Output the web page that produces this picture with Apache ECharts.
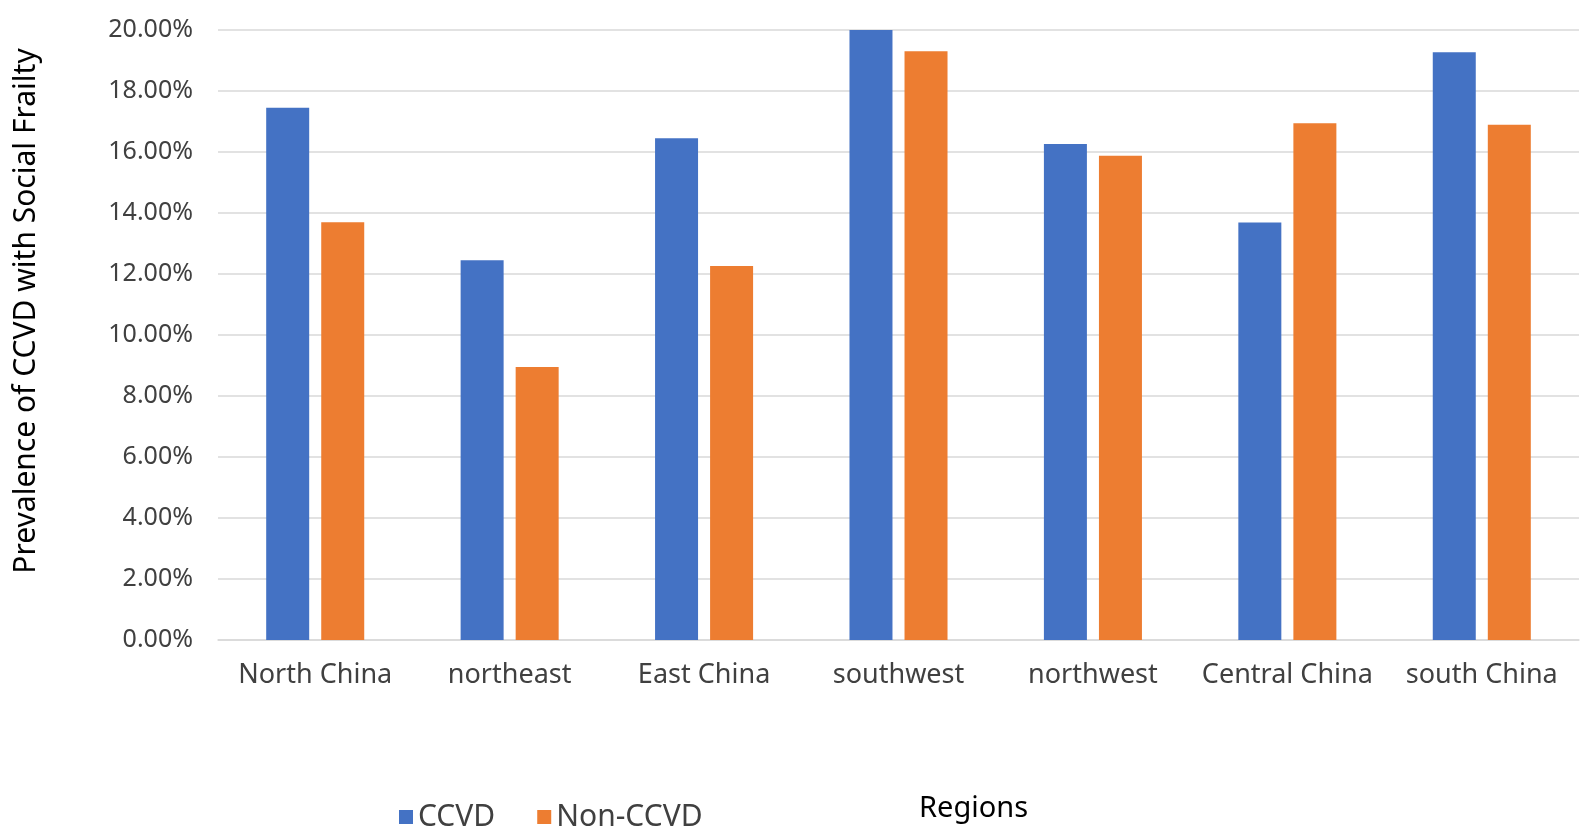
<!DOCTYPE html>
<html>
<head>
<meta charset="utf-8">
<title>Prevalence of CCVD with Social Frailty</title>
<script src="https://cdn.jsdelivr.net/npm/echarts@6/dist/echarts.min.js"></script>
<style>
  html, body { margin: 0; padding: 0; background: #fff; }
  #main { width: 1595px; height: 840px; }
</style>
</head>
<body>
<div id="main"></div>
<script>
// 各地区数据（百分比）
var regions = ['North China', 'northeast', 'East China', 'southwest', 'northwest', 'Central China', 'south China'];
var ccvd = [17.45, 12.45, 16.45, 20.0, 16.26, 13.69, 19.27];
var nonCcvd = [13.7, 8.95, 12.26, 19.3, 15.88, 16.94, 16.89];
var yTicks = { min: 0, max: 20, interval: 2 };

var font = '"Noto Sans", "Open Sans", sans-serif';
var chart = echarts.init(document.getElementById('main'));

var option = {
  animation: false,
  color: ['#4472C4', '#ED7D31'],
  title: {
    text: 'Regions',
    left: 914,
    top: 789,
    textStyle: { fontFamily: font, fontSize: 29, fontWeight: 'normal', color: '#000' }
  },
  legend: {
    data: ['CCVD', 'Non-CCVD'],
    left: 394,
    top: 797,
    icon: 'rect',
    itemWidth: 14,
    itemHeight: 14,
    itemGap: 42,
    textStyle: { fontFamily: font, fontSize: 30, color: '#404040' }
  },
  grid: { left: 218, right: 16, top: 30, bottom: 200 },
  xAxis: {
    type: 'category',
    data: regions,
    axisTick: { show: false },
    axisLine: { lineStyle: { color: '#d9d9d9', width: 1.5 } },
    axisLabel: { interval: 0, fontFamily: font, fontSize: 27, color: '#404040', margin: 22 }
  },
  yAxis: {
    type: 'value',
    min: yTicks.min,
    max: yTicks.max,
    interval: yTicks.interval,
    name: 'Prevalence of CCVD with Social Frailty',
    nameLocation: 'middle',
    nameGap: 177,
    nameTextStyle: { fontFamily: font, fontSize: 30, color: '#000', padding: [0, 0, 0, 48] },
    axisLine: { show: false },
    axisTick: { show: false },
    splitLine: { lineStyle: { color: '#d9d9d9', width: 1.5 } },
    axisLabel: {
      fontFamily: font, fontSize: 25, color: '#404040', margin: 25,
      formatter: function(v) { return v.toFixed(2) + '%'; }
    }
  },
  series: [
    { name: 'CCVD', type: 'bar', data: ccvd, barWidth: 43, barGap: '28%' },
    { name: 'Non-CCVD', type: 'bar', data: nonCcvd, barWidth: 43, barGap: '28%' }
  ]
};
chart.setOption(option);
</script>
</body>
</html>
